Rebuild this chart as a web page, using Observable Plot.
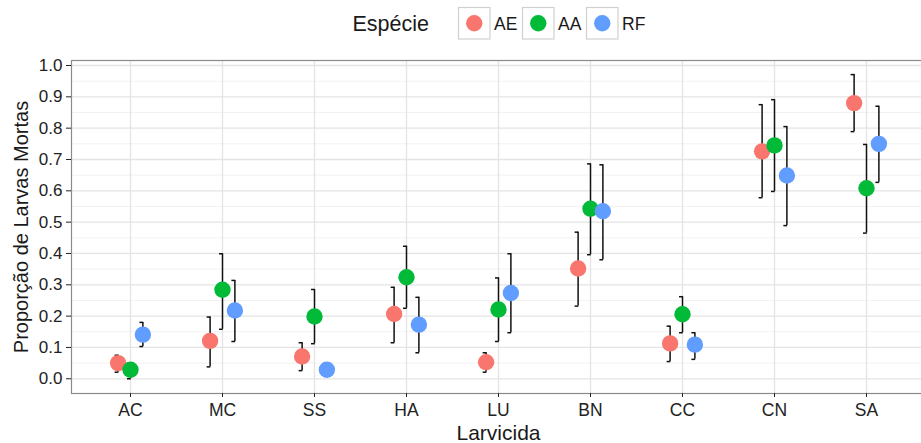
<!DOCTYPE html>
<html>
<head>
<meta charset="utf-8">
<script src="https://cdn.jsdelivr.net/npm/d3@7"></script>
<script src="https://cdn.jsdelivr.net/npm/@observablehq/plot@0.6"></script>
<style>
  body { margin: 0; background: #fff; }
  #chart { width: 921px; font-family: "Liberation Sans", Arial, sans-serif; }
  #chart svg { display: block; overflow: hidden; }
</style>
</head>
<body>
<div id="chart"></div>
<script>
// Larvicides tested and the three mosquito species
const larvicidas = ["AC", "MC", "SS", "HA", "LU", "BN", "CC", "CN", "SA"];
const especies = ["AE", "AA", "RF"];
const cores = ["#F8766D", "#00BA38", "#619CFF"];

// Proportion of dead larvae, per species, in larvicide order
const propAE = [0.050, 0.121, 0.071, 0.207, 0.053, 0.352, 0.113, 0.726, 0.880];
const propAA = [0.029, 0.284, 0.199, 0.324, 0.221, 0.543, 0.206, 0.745, 0.608];
const propRF = [0.141, 0.218, 0.029, 0.173, 0.274, 0.535, 0.109, 0.649, 0.750];

// Lower and upper limits of the error bars
const infAE = [0.021, 0.038, 0.026, 0.115, 0.021, 0.232, 0.055, 0.578, 0.789];
const supAE = [0.075, 0.197, 0.115, 0.292, 0.083, 0.468, 0.168, 0.875, 0.971];
const infAA = [0.000, 0.158, 0.112, 0.225, 0.119, 0.396, 0.147, 0.598, 0.465];
const supAA = [0.050, 0.399, 0.285, 0.423, 0.322, 0.686, 0.262, 0.891, 0.748];
const infRF = [0.103, 0.119, 0.008, 0.083, 0.147, 0.380, 0.062, 0.489, 0.627];
const supRF = [0.180, 0.314, 0.050, 0.260, 0.399, 0.683, 0.147, 0.805, 0.870];

// Axis ticks
const yTicks = [0, 0.1, 0.2, 0.3, 0.4, 0.5, 0.6, 0.7, 0.8, 0.9, 1.0];
const yMinor = [0.05, 0.15, 0.25, 0.35, 0.45, 0.55, 0.65, 0.75, 0.85, 0.95];

const tituloLegenda = "Espécie";
const tituloX = "Larvicida";
const tituloY = "Proporção de Larvas Mortas";

const series = [
  {prop: propAE, inf: infAE, sup: supAE},
  {prop: propAA, inf: infAA, sup: supAA},
  {prop: propRF, inf: infRF, sup: supRF}
];

const rows = [];
especies.forEach((esp, k) => {
  larvicidas.forEach((lar, i) => {
    rows.push({
      larvicida: lar,
      especie: esp,
      prop: series[k].prop[i],
      inf: series[k].inf[i],
      sup: series[k].sup[i]
    });
  });
});

const chart = document.getElementById("chart");

// ---- legend (top) ----
const leg = d3.create("svg").attr("width", 921).attr("height", 45);
leg.append("text")
  .attr("x", 352.5).attr("y", 31)
  .attr("font-size", 21.5).attr("fill", "#1a1a1a")
  .text(tituloLegenda);
especies.forEach((esp, k) => {
  const x0 = 458.5 + k * 64;
  leg.append("rect")
    .attr("x", x0).attr("y", 7.5).attr("width", 31.5).attr("height", 31.5)
    .attr("fill", "#fff").attr("stroke", "#d0d0d0").attr("stroke-width", 1.2);
  leg.append("circle")
    .attr("cx", x0 + 15.75).attr("cy", 23.2).attr("r", 8.2)
    .attr("fill", cores[k]);
  leg.append("text")
    .attr("x", x0 + 35.5).attr("y", 29.5)
    .attr("font-size", 17.5).attr("fill", "#1a1a1a")
    .text(esp);
});
chart.appendChild(leg.node());

// ---- plot ----
// The panel runs a little past the right edge of the page.
const W = 921, H = 398, ML = 71, MT = 15, MB = 50;
const panelRight = 925.6;
const pad = 0.6;
const step = (panelRight - ML) / (larvicidas.length - 1 + 2 * pad);
const dodge = step * 0.4 / 3;

const barMarks = especies.flatMap((esp, k) => {
  const d = rows.filter(r => r.especie === esp);
  const dx = (k - 1) * dodge;
  const cap = {x1: "larvicida", x2: "larvicida", dx, stroke: "#111", strokeWidth: 1.5,
    insetLeft: -3, insetRight: -0.75};
  return [
    Plot.ruleX(d, {x: "larvicida", y1: "inf", y2: "sup", dx, stroke: "#111", strokeWidth: 1.5}),
    Plot.ruleY(d, {...cap, y: "inf"}),
    Plot.ruleY(d, {...cap, y: "sup"})
  ];
});

const dotMarks = especies.map((esp, k) =>
  Plot.dot(rows.filter(r => r.especie === esp), {
    x: "larvicida", y: "prop", fill: "especie", r: 8.2, dx: (k - 1) * dodge
  })
);

const plot = Plot.plot({
  width: W,
  height: H,
  marginLeft: ML,
  marginRight: 0,
  marginTop: MT,
  marginBottom: MB,
  style: {fontFamily: '"Liberation Sans", Arial, sans-serif', background: "#fff"},
  x: {type: "point", domain: larvicidas, padding: pad, range: [ML, panelRight]},
  y: {domain: [-0.047, 1.016]},
  color: {domain: especies, range: cores},
  marks: [
    Plot.gridY(yMinor, {stroke: "#f2f2f2", strokeOpacity: 1, strokeWidth: 1}),
    Plot.gridY(yTicks, {stroke: "#e4e4e4", strokeOpacity: 1, strokeWidth: 1.3}),
    Plot.gridX({stroke: "#e4e4e4", strokeOpacity: 1, strokeWidth: 1.3}),
    Plot.frame({stroke: "#8a8a8a", strokeWidth: 1.2, insetRight: -6}),
    Plot.axisY(yTicks, {tickSize: 5, tickPadding: 4, tickFormat: d => d.toFixed(1),
      fontSize: 17, color: "#222", label: null}),
    Plot.axisX({tickSize: 4, tickPadding: 6, fontSize: 17.5, color: "#222", label: null}),
    ...barMarks,
    ...dotMarks,
    Plot.text([tituloX], {text: d => d, frameAnchor: "bottom", dy: 46.3, dx: 2, lineAnchor: "bottom",
      fontSize: 21, fill: "#1a1a1a"}),
    Plot.text([tituloY], {text: d => d, frameAnchor: "left", dx: -44, rotate: -90,
      lineAnchor: "bottom", textAnchor: "middle", fontSize: 20, fill: "#1a1a1a"})
  ]
});
chart.appendChild(plot);
</script>
</body>
</html>
